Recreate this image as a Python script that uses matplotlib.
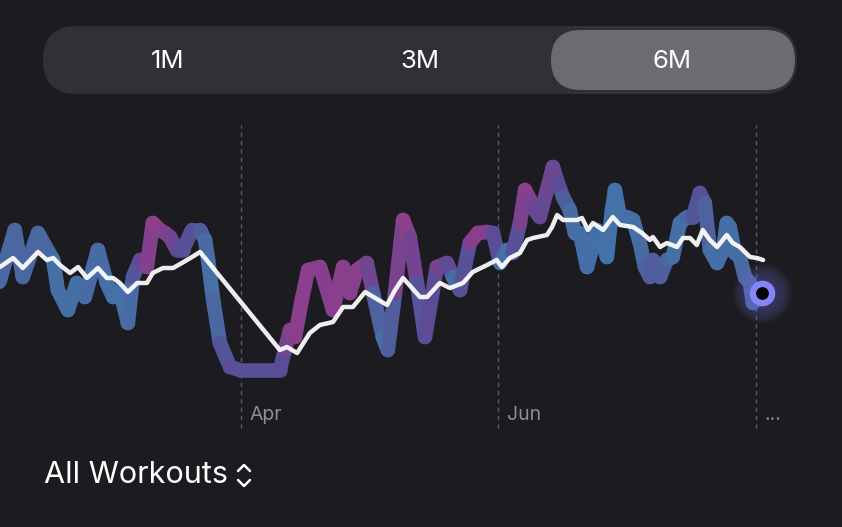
import numpy as np
import matplotlib
matplotlib.use('Agg')
import matplotlib.pyplot as plt
from matplotlib.collections import LineCollection
from matplotlib.colors import LinearSegmentedColormap
from matplotlib.patches import FancyBboxPatch

plt.rcParams['font.family'] = ['Inter', 'DejaVu Sans']

BG = '#1c1b1f'

# days counted from Feb 1
daily_days = [0.0, 1.9, 5.4, 7.3, 10.9, 14.5, 15.6, 18.0, 20.1, 22.0,
              25.1, 27.2, 28.7, 30.3, 32.2, 33.4, 35.1, 36.7, 38.1, 39.8,
              41.0, 42.2, 43.8, 45.2, 47.4, 49.3, 50.5, 51.2, 52.4, 54.0,
              56.4, 58.8, 68.2, 69.4, 70.6, 71.8, 73.4, 74.9, 77.7, 78.9,
              80.8, 83.2, 84.8, 86.5, 88.8, 90.3, 92.6, 93.8, 95.5, 97.4,
              99.0, 100.7, 102.6, 105.4, 107.8, 109.2, 110.9, 113.2, 115.1, 117.3,
              118.7, 120.4, 122.0, 123.4, 125.1, 126.3, 127.5, 128.6, 129.8, 131.5,
              132.9, 134.1, 135.3, 136.9, 138.1, 139.3, 141.0, 142.1, 143.3, 144.5,
              145.7, 146.9, 147.6, 148.8, 150.4, 151.9, 153.5, 154.7, 155.9, 156.6,
              158.3, 159.9, 161.3, 163.0, 164.7, 166.1, 167.7, 168.9, 170.1, 171.8,
              173.2, 174.1, 174.8, 176.0, 177.2, 178.4, 179.6, 180.3, 181.2, 182.4]
daily_load = [105, 120, 170, 123, 167, 140, 110, 90, 117, 103,
              150, 117, 103, 110, 77, 123, 140, 133, 177, 170,
              167, 163, 150, 150, 170, 170, 160, 140, 100, 57,
              33, 30, 30, 50, 70, 63, 100, 130, 133, 117,
              90, 133, 107, 130, 137, 107, 63, 50, 107, 180,
              163, 117, 63, 133, 137, 123, 110, 157, 167, 168,
              167, 137, 150, 147, 177, 210, 200, 190, 183, 210,
              233, 217, 203, 190, 167, 167, 133, 150, 170, 160,
              143, 190, 210, 183, 183, 180, 157, 133, 123, 140,
              123, 140, 143, 177, 183, 183, 207, 197, 150, 137,
              150, 177, 173, 147, 143, 123, 117, 97, 103, 107]
daily_tone = [0.3, 0.3, 0.4, 0.3, 0.4, 0.3, 0.25, 0.3, 0.25, 0.25,
              0.4, 0.25, 0.2, 0.2, 0.25, 0.4, 0.5, 0.6, 0.85, 0.8,
              0.75, 0.7, 0.55, 0.45, 0.5, 0.45, 0.35, 0.3, 0.3, 0.4,
              0.5, 0.5, 0.45, 0.55, 0.75, 0.75, 0.8, 0.8, 0.8, 0.75,
              0.75, 0.8, 0.75, 0.8, 0.75, 0.5, 0.25, 0.3, 0.5, 0.85,
              0.8, 0.5, 0.4, 0.65, 0.65, 0.4, 0.25, 0.7, 0.8, 0.8,
              0.7, 0.3, 0.25, 0.35, 0.6, 0.8, 0.75, 0.6, 0.55, 0.6,
              0.65, 0.55, 0.45, 0.35, 0.3, 0.25, 0.25, 0.25, 0.25, 0.25,
              0.2, 0.2, 0.2, 0.2, 0.25, 0.25, 0.3, 0.35, 0.4, 0.4,
              0.4, 0.4, 0.3, 0.25, 0.3, 0.4, 0.5, 0.45, 0.3, 0.25,
              0.25, 0.25, 0.25, 0.25, 0.3, 0.35, 0.35, 0.35, 0.35, 0.35]

avg_days = [1.9, 5.0, 7.3, 10.9, 13.0, 14.5, 16.1, 18.5, 20.4, 22.5,
            25.1, 27.2, 28.7, 30.3, 32.2, 34.4, 36.7, 38.1, 40.5, 42.9,
            45.0, 47.4, 49.3, 68.2, 69.9, 72.3, 75.3, 77.7, 80.8, 83.2,
            85.5, 88.4, 93.6, 95.5, 97.4, 101.4, 103.1, 106.1, 108.5, 111.6,
            113.9, 117.3, 119.6, 120.8, 122.7, 125.1, 126.8, 128.2, 131.5, 132.7,
            133.9, 135.3, 138.6, 139.8, 141.2, 142.4, 144.8, 147.1, 148.8, 151.9,
            154.0, 155.9, 156.6, 158.3, 159.9, 162.3, 163.7, 165.4, 167.0, 168.4,
            170.1, 171.8, 174.1, 175.5, 177.2, 179.6, 181.2, 182.7]
avg_load = [133, 142, 132, 148, 140, 142, 135, 127, 133, 122,
            132, 122, 122, 117, 108, 117, 117, 127, 132, 132,
            137, 143, 148, 50, 53, 47, 67, 75, 78, 93,
            93, 108, 95, 110, 122, 103, 103, 117, 112, 117,
            128, 135, 140, 133, 142, 147, 160, 162, 165, 173,
            185, 180, 180, 182, 170, 177, 170, 183, 175, 173,
            167, 160, 163, 153, 157, 153, 162, 162, 155, 170,
            160, 153, 165, 157, 153, 143, 142, 140]

month_days = [59, 120, 181]
month_labels = ['Apr', 'Jun', '...']
ranges = ['1M', '3M', '6M']

fig = plt.figure(figsize=(8.42, 5.27), dpi=100, facecolor=BG)

# pixel-space layer for the controls and captions
ui = fig.add_axes([0, 0, 1, 1])
ui.set_xlim(0, 842)
ui.set_ylim(527, 0)
ui.axis('off')
ui.set_facecolor(BG)

ui.add_patch(FancyBboxPatch((43, 26), 754, 68,
                            boxstyle='round,pad=0,rounding_size=34',
                            fc='#313036', ec='none'))
ui.add_patch(FancyBboxPatch((551, 30), 244, 60,
                            boxstyle='round,pad=0,rounding_size=30',
                            fc='#6c6b70', ec='none'))
for i, r in enumerate(ranges):
    ui.text(168 + i * 252, 61, r, color='white', fontsize=18.5,
            ha='center', va='center')

ui.text(44, 475, 'All Workouts', color='white', fontsize=22,
        ha='left', va='center')
ui.plot([238, 244, 250], [471, 465, 471], color='white', lw=1.8,
        solid_capstyle='round', solid_joinstyle='round')
ui.plot([238, 244, 250], [480, 486, 480], color='white', lw=1.8,
        solid_capstyle='round', solid_joinstyle='round')

# chart layer in data units
ax = fig.add_axes([0, 0, 1, 1])
ax.set_xlim(1.9, 201.4)
ax.set_ylim(-127, 400)
ax.axis('off')
ax.patch.set_alpha(0)

ax.vlines(month_days, -28, 275, colors='#5c5b60', lw=1,
          linestyles=(0, (3, 3)))
for d, lab in zip(month_days, month_labels):
    ax.text(d + 2.1, -15, lab, color='#8e8e93', fontsize=14,
            ha='left', va='center')

cmap = LinearSegmentedColormap.from_list(
    'load', [(0, '#3f73aa'), (0.3, '#4670a6'), (0.5, '#5a4c96'),
             (0.75, '#863f8c'), (1, '#a3418a')])
pts = np.column_stack([daily_days, daily_load])
segs = np.stack([pts[:-1], pts[1:]], axis=1)
tone = np.array(daily_tone)
lc = LineCollection(segs, colors=cmap((tone[:-1] + tone[1:]) / 2),
                    linewidths=10.5, capstyle='round', joinstyle='round')
ax.add_collection(lc)

ax.plot(avg_days, avg_load, color='white', lw=3.2, alpha=0.93,
        solid_capstyle='round', solid_joinstyle='round')

# end marker with soft glow
lx, ly = daily_days[-1], daily_load[-1]
for s in np.linspace(1900, 360, 18):
    ax.scatter([lx], [ly], s=s, color='#7f80f2', alpha=0.022, lw=0, zorder=5)
ax.scatter([lx], [ly], s=340, color='#8486f5', lw=0, zorder=6)
ax.scatter([lx], [ly], s=85, color='#050507', lw=0, zorder=7)

fig.savefig('out.png', dpi=100, facecolor=BG)
